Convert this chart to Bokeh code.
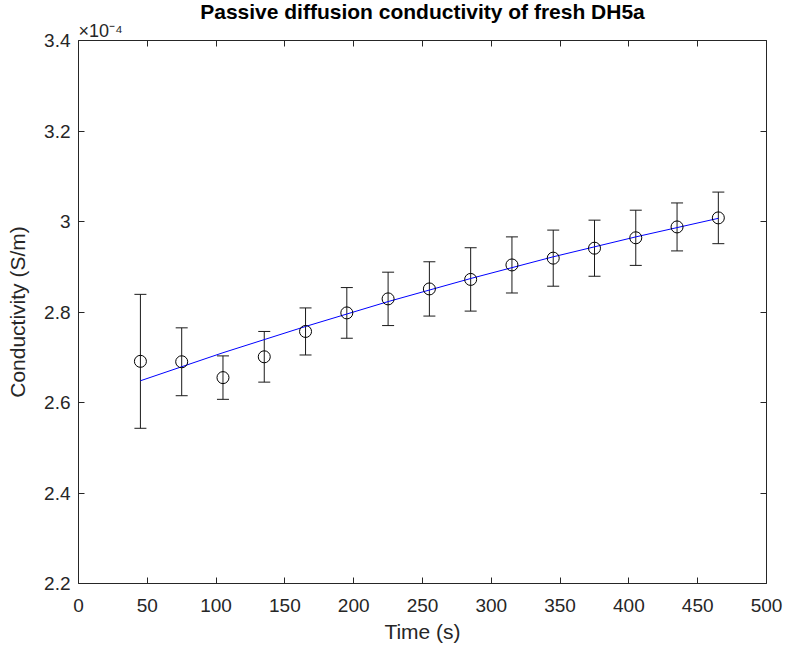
from bokeh.plotting import figure
from bokeh.models import (ColumnDataSource, Whisker, TeeHead, Title, LinearAxis,
                          FixedTicker, Range1d)
from bokeh.embed import file_html
from bokeh.resources import INLINE

# ---- data (conductivity in units of 1e-4 S/m) ----
time_s = [45, 75, 105, 135, 165, 195, 225, 255, 285, 315, 345, 375, 405, 435, 465]
cond = [2.691, 2.690, 2.655, 2.701, 2.757, 2.798, 2.829, 2.851, 2.872, 2.904,
        2.919, 2.941, 2.964, 2.988, 3.008]
err = [0.148, 0.075, 0.048, 0.056, 0.052, 0.056, 0.059, 0.060, 0.070, 0.062,
       0.062, 0.062, 0.061, 0.053, 0.057]
fit_t = [45, 105, 165, 225, 285, 345, 405, 465]
fit_y = [2.648, 2.710, 2.768, 2.823, 2.874, 2.922, 2.966, 3.007]

x_ticks = [0, 50, 100, 150, 200, 250, 300, 350, 400, 450, 500]
y_ticks = [2.2, 2.4, 2.6, 2.8, 3.0, 3.2, 3.4]
y_tick_labels = ["2.2", "2.4", "2.6", "2.8", "3", "3.2", "3.4"]

title_text = "Passive diffusion conductivity of fresh DH5a"
exponent_text = "×10⁻⁴"
x_label = "Time (s)"
y_label = "Conductivity (S/m)"

FONT = "Liberation Sans"
AX = "#262626"

src = ColumnDataSource(dict(
    t=time_s, c=cond,
    lo=[c - e for c, e in zip(cond, err)],
    hi=[c + e for c, e in zip(cond, err)],
))
fit_src = ColumnDataSource(dict(t=fit_t, y=fit_y))

p = figure(width=785, height=650, output_backend="svg", toolbar_location=None,
           x_range=Range1d(0, 500), y_range=Range1d(2.2, 3.4),
           min_border_left=78, min_border_right=19, min_border_top=40,
           min_border_bottom=67, x_axis_label=x_label, y_axis_label=y_label)
p.background_fill_color = "white"
p.border_fill_color = "white"
p.outline_line_color = None
p.xgrid.visible = False
p.ygrid.visible = False

def style_axis(ax):
    ax.axis_line_color = AX
    ax.axis_line_width = 1
    ax.major_tick_line_color = AX
    ax.major_tick_in = 6
    ax.major_tick_out = 0
    ax.minor_tick_line_color = None
    ax.major_label_text_font = FONT
    ax.major_label_text_font_size = "19px"
    ax.major_label_text_color = AX
    ax.axis_label_text_font = FONT
    ax.axis_label_text_font_size = "21px"
    ax.axis_label_text_font_style = "normal"
    ax.axis_label_text_color = AX

xa = p.xaxis[0]
xa.ticker = FixedTicker(ticks=x_ticks)
style_axis(xa)
xa.major_label_standoff = 15
xa.axis_label_standoff = 5

ya = p.yaxis[0]
ya.ticker = FixedTicker(ticks=y_ticks)
ya.major_label_overrides = {t: s for t, s in zip(y_ticks, y_tick_labels)}
style_axis(ya)
ya.major_label_standoff = 8
ya.axis_label_standoff = 12

top = LinearAxis(ticker=FixedTicker(ticks=x_ticks),
                 major_label_overrides={t: "" for t in x_ticks})
style_axis(top)
top.major_label_standoff = 2
top.major_label_text_font_size = "0px"
p.add_layout(top, "above")
right = LinearAxis(ticker=FixedTicker(ticks=y_ticks),
                   major_label_overrides={t: "" for t in y_ticks})
style_axis(right)
right.major_label_standoff = 0
right.major_label_text_font_size = "0px"
p.add_layout(right, "right")

# exponent marker (nearest the frame), then the main title above it
p.add_layout(Title(text=exponent_text, align="left", offset=0, standoff=-1,
                   text_font=FONT, text_font_size="18px",
                   text_font_style="normal", text_color=AX), "above")
p.add_layout(Title(text=title_text, align="center", standoff=-7,
                   text_font=FONT, text_font_size="21px",
                   text_font_style="bold", text_color="black"), "above")

# fit line
p.line("t", "y", source=fit_src, line_color="#0000FF", line_width=1)

# error bars
wh = Whisker(base="t", lower="lo", upper="hi", source=src,
             line_color="#1a1a1a", line_width=1,
             upper_head=TeeHead(size=12, line_color="#1a1a1a", line_width=1),
             lower_head=TeeHead(size=12, line_color="#1a1a1a", line_width=1))
p.add_layout(wh)

# markers
p.scatter("t", "c", source=src, marker="circle", size=12, fill_color=None,
          line_color="black", line_width=1)

open("out.html", "w").write(file_html(p, INLINE))
